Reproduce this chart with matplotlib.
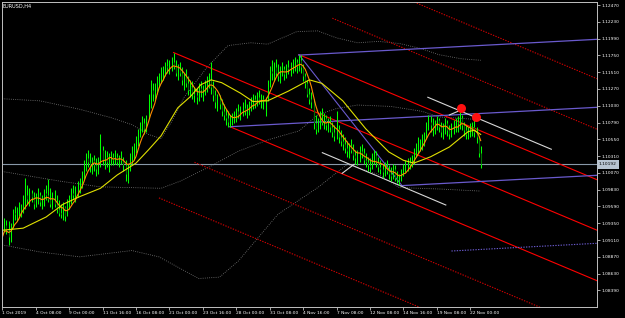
import numpy as np
import pandas as pd
import matplotlib
matplotlib.use("Agg")
import matplotlib.pyplot as plt
import matplotlib.transforms as mtrans

# ---------------- data (EURUSD, H4) ----------------
highs = [1.0935, 1.0942, 1.0940, 1.0938, 1.0935,
         1.0955, 1.0960, 1.0958, 1.0965, 1.0962, 1.0975, 1.0999,
         1.0990, 1.0985, 1.0982, 1.0980, 1.0978, 1.0985, 1.0980, 1.0976, 1.0984, 1.0990, 1.0998, 1.0985, 1.0980,
         1.0982, 1.0975, 1.0968, 1.0962, 1.0965, 1.0960, 1.0970, 1.0975,
         1.0985, 1.0990, 1.0988, 1.0995, 1.1000, 1.1010,
         1.1025, 1.1035, 1.1040,
         1.1035, 1.1030, 1.1033, 1.1028, 1.1030, 1.1062,
         1.1045, 1.1040, 1.1038, 1.1035, 1.1038,
         1.1036, 1.1040, 1.1035, 1.1033, 1.1038, 1.1030, 1.1025, 1.1020,
         1.1035, 1.1045, 1.1050, 1.1060, 1.1070,
         1.1080, 1.1088, 1.1085, 1.1090,
         1.1120, 1.1140, 1.1135,
         1.1135, 1.1145, 1.1150, 1.1158, 1.1160,
         1.1165, 1.1170, 1.1168, 1.1172, 1.1179, 1.1168,
         1.1162, 1.1165, 1.1158, 1.1150, 1.1155, 1.1145, 1.1140, 1.1138,
         1.1130, 1.1128, 1.1135, 1.1138, 1.1132, 1.1140,
         1.1145, 1.1150, 1.1165,
         1.1138, 1.1125, 1.1120, 1.1118, 1.1112, 1.1105, 1.1098, 1.1095,
         1.1090, 1.1092, 1.1095,
         1.1100, 1.1105, 1.1102, 1.1108, 1.1112, 1.1105, 1.1110,
         1.1115, 1.1120, 1.1118, 1.1122, 1.1125, 1.1120, 1.1118, 1.1115,
         1.1140, 1.1160, 1.1168, 1.1165, 1.1170,
         1.1162, 1.1160, 1.1165, 1.1160, 1.1162, 1.1168, 1.1165, 1.1170, 1.1172,
         1.1170, 1.1175, 1.1176,
         1.1162, 1.1150,
         1.1140, 1.1128, 1.1122,
         1.1112, 1.1090,
         1.1085, 1.1095, 1.1100, 1.1092, 1.1090, 1.1085, 1.1088, 1.1080,
         1.1075, 1.1095, 1.1075, 1.1068, 1.1062,
         1.1058, 1.1052, 1.1050, 1.1055, 1.1048, 1.1040,
         1.1040, 1.1045, 1.1048, 1.1042, 1.1035,
         1.1030, 1.1028, 1.1035,
         1.1040, 1.1038, 1.1030,
         1.1025, 1.1020, 1.1022, 1.1025, 1.1018, 1.1015, 1.1020, 1.1018, 1.1010, 1.1005,
         1.1012, 1.1020, 1.1025, 1.1028, 1.1030, 1.1032,
         1.1042, 1.1050, 1.1058, 1.1055, 1.1062, 1.1065,
         1.1080, 1.1090,
         1.1088, 1.1085, 1.1082, 1.1088, 1.1085, 1.1080, 1.1078, 1.1085, 1.1082, 1.1075, 1.1078, 1.1082, 1.1085,
         1.1088, 1.1098, 1.1090,
         1.1080, 1.1075, 1.1072,
         1.1078, 1.1080, 1.1092,
         1.1072,
         1.1060, 1.1045]

lows = [1.0905, 1.0922, 1.0920, 1.0904, 1.0908,
        1.0928, 1.0940, 1.0938, 1.0945, 1.0944, 1.0950, 1.0955,
        1.0962, 1.0960, 1.0965, 1.0955, 1.0958, 1.0962, 1.0960, 1.0955, 1.0960, 1.0968, 1.0965, 1.0958, 1.0955,
        1.0958, 1.0950, 1.0945, 1.0942, 1.0940, 1.0938, 1.0945, 1.0955,
        1.0962, 1.0970, 1.0965, 1.0972, 1.0978, 1.0985,
        1.0998, 1.1010, 1.1015,
        1.1008, 1.1005, 1.1010, 1.1002, 1.1005, 1.1015,
        1.1018, 1.1012, 1.1015, 1.1008, 1.1018,
        1.1018, 1.1020, 1.1018, 1.1015, 1.1020, 1.1010, 1.0995, 1.0992,
        1.1010, 1.1020, 1.1025, 1.1035, 1.1045,
        1.1058, 1.1065, 1.1062, 1.1066,
        1.1085, 1.1100, 1.1110,
        1.1112, 1.1120, 1.1130, 1.1135, 1.1140,
        1.1145, 1.1150, 1.1148, 1.1152, 1.1155, 1.1145,
        1.1140, 1.1145, 1.1132, 1.1125, 1.1130, 1.1118, 1.1115, 1.1112,
        1.1108, 1.1105, 1.1110, 1.1115, 1.1110, 1.1118,
        1.1122, 1.1128, 1.1120,
        1.1110, 1.1100, 1.1095, 1.1098, 1.1088, 1.1082, 1.1075, 1.1072,
        1.1072, 1.1075, 1.1078,
        1.1080, 1.1085, 1.1082, 1.1088, 1.1090, 1.1085, 1.1090,
        1.1095, 1.1098, 1.1100, 1.1102, 1.1105, 1.1100, 1.1098, 1.1088,
        1.1110, 1.1130, 1.1140, 1.1138, 1.1145,
        1.1138, 1.1135, 1.1145, 1.1140, 1.1142, 1.1148, 1.1145, 1.1150, 1.1152,
        1.1150, 1.1152, 1.1150,
        1.1138, 1.1128,
        1.1115, 1.1105, 1.1100,
        1.1070, 1.1062,
        1.1065, 1.1070, 1.1075, 1.1070, 1.1068, 1.1065, 1.1066, 1.1058,
        1.1052, 1.1055, 1.1050, 1.1045, 1.1040,
        1.1035, 1.1030, 1.1028, 1.1035, 1.1025, 1.1020,
        1.1018, 1.1022, 1.1028, 1.1020, 1.1015,
        1.1010, 1.1008, 1.1012,
        1.1020, 1.1015, 1.1008,
        1.1005, 1.1000, 1.1002, 1.1005, 1.0998, 1.0995, 1.0998, 1.0996, 1.0992, 1.0989,
        1.0995, 1.1002, 1.1008, 1.1010, 1.1012, 1.1015,
        1.1020, 1.1030, 1.1035, 1.1038, 1.1040, 1.1045,
        1.1055, 1.1068,
        1.1065, 1.1060, 1.1062, 1.1068, 1.1065, 1.1058, 1.1055, 1.1062, 1.1060, 1.1055, 1.1058, 1.1062, 1.1065,
        1.1066, 1.1070, 1.1068,
        1.1060, 1.1055, 1.1055,
        1.1058, 1.1060, 1.1058,
        1.1050,
        1.1030, 1.1014]

closes = [1.0915, 1.0932, 1.0925, 1.0915, 1.0930,
          1.0950, 1.0948, 1.0952, 1.0955, 1.0958, 1.0960, 1.0975,
          1.0970, 1.0978, 1.0972, 1.0962, 1.0970, 1.0975, 1.0965, 1.0968, 1.0978, 1.0975, 1.0970, 1.0962, 1.0968,
          1.0963, 1.0955, 1.0950, 1.0948, 1.0958, 1.0945, 1.0962, 1.0968,
          1.0978, 1.0975, 1.0982, 1.0985, 1.0995, 1.1005,
          1.1020, 1.1028, 1.1022,
          1.1015, 1.1025, 1.1018, 1.1012, 1.1025, 1.1040,
          1.1025, 1.1030, 1.1022, 1.1028, 1.1030,
          1.1025, 1.1030, 1.1022, 1.1028, 1.1025, 1.1018, 1.1005, 1.1015,
          1.1030, 1.1035, 1.1042, 1.1055, 1.1065,
          1.1072, 1.1078, 1.1070, 1.1085,
          1.1110, 1.1125, 1.1120,
          1.1128, 1.1140, 1.1145, 1.1150, 1.1155,
          1.1160, 1.1158, 1.1162, 1.1165, 1.1160, 1.1150,
          1.1155, 1.1150, 1.1140, 1.1145, 1.1135, 1.1125, 1.1130, 1.1120,
          1.1118, 1.1115, 1.1128, 1.1125, 1.1128, 1.1135,
          1.1138, 1.1140, 1.1130,
          1.1118, 1.1108, 1.1112, 1.1105, 1.1095, 1.1090, 1.1085, 1.1080,
          1.1082, 1.1088, 1.1090,
          1.1095, 1.1090, 1.1098, 1.1100, 1.1095, 1.1100, 1.1105,
          1.1108, 1.1112, 1.1105, 1.1115, 1.1110, 1.1112, 1.1110, 1.1112,
          1.1135, 1.1152, 1.1150, 1.1158, 1.1150,
          1.1145, 1.1152, 1.1155, 1.1148, 1.1158, 1.1155, 1.1160, 1.1162, 1.1165,
          1.1160, 1.1168, 1.1158,
          1.1145, 1.1135,
          1.1120, 1.1112, 1.1108,
          1.1078, 1.1070,
          1.1078, 1.1082, 1.1080, 1.1085, 1.1075, 1.1078, 1.1072, 1.1065,
          1.1060, 1.1070, 1.1058, 1.1052, 1.1048,
          1.1042, 1.1038, 1.1045, 1.1040, 1.1032, 1.1028,
          1.1030, 1.1038, 1.1035, 1.1025, 1.1022,
          1.1018, 1.1015, 1.1028,
          1.1032, 1.1022, 1.1015,
          1.1012, 1.1008, 1.1015, 1.1010, 1.1005, 1.1002, 1.1012, 1.1000, 1.0998, 1.1000,
          1.1008, 1.1015, 1.1018, 1.1022, 1.1020, 1.1028,
          1.1038, 1.1045, 1.1048, 1.1050, 1.1055, 1.1060,
          1.1075, 1.1080,
          1.1075, 1.1070, 1.1078, 1.1082, 1.1072, 1.1065, 1.1070, 1.1078, 1.1068, 1.1062, 1.1072, 1.1075, 1.1080,
          1.1078, 1.1085, 1.1075,
          1.1068, 1.1062, 1.1068,
          1.1070, 1.1072, 1.1065,
          1.1058,
          1.1035, 1.1019]

# slow moving average: bar index, price
slow_ma_bar = [0, 10, 21, 29, 37, 47, 55, 64, 70, 76, 84, 90, 95, 100, 105, 114, 120, 127,
               137, 147, 153, 163, 174, 185, 192, 197, 205, 214, 223, 226, 229]
slow_ma_val = [1.0925, 1.0928, 1.0944, 1.0962, 1.0973, 1.0985, 1.1004, 1.1021, 1.1040, 1.1060,
               1.1100, 1.1116, 1.1133, 1.1140, 1.1136, 1.1121, 1.1109, 1.1110, 1.1124, 1.1140,
               1.1135, 1.1110, 1.1070, 1.1037, 1.1025, 1.1021, 1.1030, 1.1044, 1.1066, 1.1068, 1.1062]

# envelope bands (dotted grey)
band_up_bar = [0, 18, 37, 52, 62, 70, 76, 81, 87, 98, 108, 119, 127, 141, 151, 160, 170, 180, 190, 200, 209, 220, 229]
band_up_val = [1.1113, 1.1110, 1.1098, 1.1086, 1.1076, 1.1062, 1.1056, 1.1080, 1.1115, 1.1158, 1.1189,
               1.1193, 1.1191, 1.1209, 1.1210, 1.1200, 1.1193, 1.1195, 1.1192, 1.1185, 1.1176, 1.1170, 1.1168]
band_mid_bar = [0, 28, 47, 76, 85, 100, 113, 128, 142, 151, 160, 170, 186, 201, 209, 229]
band_mid_val = [1.1009, 1.0995, 1.0987, 1.0985, 1.0995, 1.1017, 1.1038, 1.1055, 1.1067, 1.1090,
                1.1099, 1.1104, 1.1102, 1.1095, 1.1087, 1.1083]
band_lo_bar = [0, 18, 37, 62, 75, 94, 104, 113, 132, 151, 165, 180, 190, 209, 229]
band_lo_val = [1.0904, 1.0894, 1.0887, 1.0896, 1.0887, 1.0856, 1.0858, 1.0881, 1.0948, 1.0986,
               1.1019, 1.1005, 1.0986, 1.0984, 1.0981]

# Andrews pitchfork pivots (bar, price)
pf_p1 = (82, 1.1179)
pf_p2 = (109, 1.1073)
pf_p3 = (142, 1.1176)
pf_extra_levels = [3, 2, -2, -3]
pf_extra_start = [175, 158, 92, 75]

# blue channel: base pivot, slope per bar, width, levels and start bars
bch_base = (109, 1.1073)
bch_slope = 0.0000158
bch_width = 0.00972
bch_levels = [1, 0, -1]
bch_start = [142, 109, 191]
bch_dotted_level = -2
bch_dotted_start = 215
blue_diag = [(142, 1.1176), (191, 1.0990)]

# white trend lines
white_lines = [[(153.2, 1.10359), (212.3, 1.09611)],
               [(203.7, 1.11151), (262.8, 1.10408)],
               [(162.7, 1.10064), (168.4, 1.10193)],
               [(214.0, 1.10898), (219.6, 1.10969)]]

# signal dots
dot_bar = [219.6, 226.8]
dot_val = [1.10993, 1.10876]

current_price = 1.10192

time_tick_bar = [0, 16, 32, 48, 64, 80, 96, 112, 128, 144, 160, 176, 192, 208, 224]
time_tick_lbl = ["1 Oct 2019", "4 Oct 08:00", "9 Oct 00:00", "11 Oct 16:00", "16 Oct 08:00",
                 "21 Oct 00:00", "23 Oct 16:00", "28 Oct 00:00", "31 Oct 08:00", "4 Nov 16:00",
                 "7 Nov 08:00", "12 Nov 08:00", "14 Nov 16:00", "19 Nov 08:00", "22 Nov 00:00"]
price_ticks = [1.12470, 1.12230, 1.11990, 1.11750, 1.11510, 1.11270, 1.11030, 1.10790, 1.10550,
               1.10310, 1.10070, 1.09830, 1.09590, 1.09350, 1.09110, 1.08870, 1.08630, 1.08390]

# ---------------- drawing ----------------
n = min(len(highs), len(lows), len(closes))
H = np.array(highs[:n]); L = np.array(lows[:n]); C = np.array(closes[:n])
O = np.r_[C[0], C[:-1]]
idx = np.arange(n)

W, Hpx = 625, 318
fig = plt.figure(figsize=(W / 100, Hpx / 100), dpi=100, facecolor="black")
ax = fig.add_axes([2 / W, (Hpx - 306.5) / Hpx, 595 / W, 304.5 / Hpx])
ax.set_facecolor("black")

XMIN, XMAX = -0.144, 284.68
YMAX, YMIN = 1.12513, 1.08160
ax.set_xlim(XMIN, XMAX)
ax.set_ylim(YMIN, YMAX)

# bands
band_style = dict(color="#7a7a7a", lw=0.6, ls=(0, (1, 1.6)))
ax.plot(band_up_bar, band_up_val, **band_style)
ax.plot(band_mid_bar, band_mid_val, **band_style)
ax.plot(band_lo_bar, band_lo_val, **band_style)

# current price line
ax.axhline(current_price, color="#8898a8", lw=0.8)

# pitchfork
mid_x = (pf_p2[0] + pf_p3[0]) / 2
mid_y = (pf_p2[1] + pf_p3[1]) / 2
slope = (mid_y - pf_p1[1]) / (mid_x - pf_p1[0])
def median(x):
    return pf_p1[1] + slope * (x - pf_p1[0])
width = pf_p3[1] - median(pf_p3[0])
for (sx, sy) in [pf_p1, pf_p2, pf_p3]:
    ax.plot([sx, XMAX], [sy, sy + slope * (XMAX - sx)], color="#ff0000", lw=0.8)
for lvl, sx in zip(pf_extra_levels, pf_extra_start):
    ax.plot([sx, XMAX], [median(sx) + lvl * width, median(XMAX) + lvl * width],
            color="#d00000", lw=0.8, ls=(0, (1.2, 1.2)))

# blue channel
def bline(x, lvl):
    return bch_base[1] + bch_slope * (x - bch_base[0]) + lvl * bch_width
for lvl, sx in zip(bch_levels, bch_start):
    ax.plot([sx, XMAX], [bline(sx, lvl), bline(XMAX, lvl)], color="#6a5acd", lw=0.9)
ax.plot([bch_dotted_start, XMAX], [bline(bch_dotted_start, bch_dotted_level), bline(XMAX, bch_dotted_level)],
        color="#6a5acd", lw=0.8, ls=(0, (1.2, 1.2)))
ax.plot([p[0] for p in blue_diag], [p[1] for p in blue_diag], color="#6a5acd", lw=0.8)

# white lines
for seg in white_lines:
    ax.plot([p[0] for p in seg], [p[1] for p in seg], color="#d8d8d8", lw=0.8)

# bars: high-low lines, then dark bodies of falling bars
ax.vlines(idx, L, H, color="#00ff00", lw=0.75)
down = C < O
ax.vlines(idx[down], C[down], O[down], color="#007000", lw=0.75)

# moving averages
fast_ma = pd.Series(C).rolling(6, min_periods=1).mean()
ax.plot(idx, fast_ma, color="#ff8c00", lw=0.8)
ax.plot(slow_ma_bar, slow_ma_val, color="#e0e000", lw=0.8)

# dots
ax.plot(dot_bar, dot_val, "o", color="#ff1010", ms=6.5, mec="none")

# axes styling
for s in ax.spines.values():
    s.set_color("#c0c0c0")
    s.set_linewidth(0.7)
ax.yaxis.tick_right()
ax.set_yticks(price_ticks)
ax.set_yticklabels([f"{v:.5f}" for v in price_ticks])
ax.set_xticks(time_tick_bar)
ax.set_xticklabels(time_tick_lbl)
ax.tick_params(axis="both", direction="out", length=2.5, width=0.6, color="#c0c0c0",
               labelcolor="white", labelsize=3.2, pad=1)
for lbl in ax.get_xticklabels():
    lbl.set_horizontalalignment("left")

# current price label on the axis
tr = mtrans.blended_transform_factory(ax.transAxes, ax.transData)
ax.text(1.003, current_price, f"{current_price:.5f}", transform=tr, fontsize=3.2, color="black",
        va="center", ha="left", clip_on=False,
        bbox=dict(boxstyle="square,pad=0.5", fc="#b8c4d0", ec="none"))

fig.text(3 / W, 1 - 6 / Hpx, "EURUSD,H4", fontsize=3.6, color="white", va="center", ha="left")

fig.savefig("out.png", dpi=100, facecolor="black")
